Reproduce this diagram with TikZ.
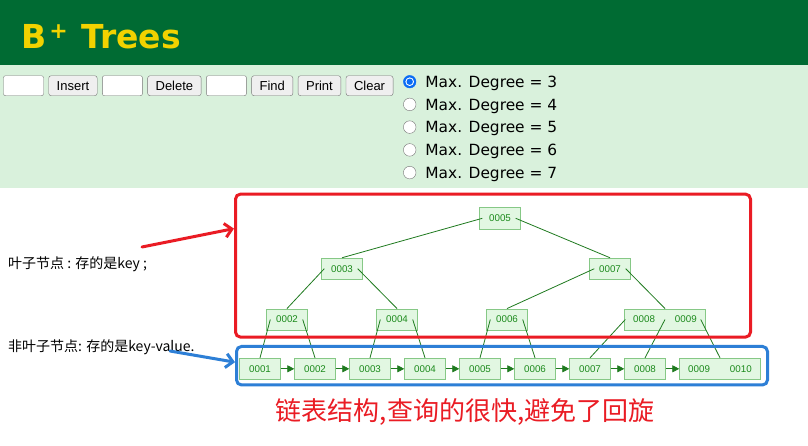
\documentclass[tikz,border=0pt]{standalone}
\usepackage{fontspec}
\setmainfont{Liberation Sans}
\newfontfamily\verafont{DejaVu Sans}
\newfontfamily\cjkfont{Noto Sans CJK SC}
\usetikzlibrary{arrows.meta,positioning}
\definecolor{btGreen}{HTML}{006B33}
\definecolor{btGold}{HTML}{F2D200}
\definecolor{btPanel}{HTML}{D9F1DC}
\definecolor{keyFill}{HTML}{E2F7E2}
\definecolor{keyLine}{HTML}{86C886}
\definecolor{keyText}{HTML}{1B8A1B}
\definecolor{linkGreen}{HTML}{1F7A1F}
\definecolor{markRed}{HTML}{EA1C24}
\definecolor{markBlue}{HTML}{2D7FD6}
\definecolor{ctlGray}{HTML}{767676}
\definecolor{btnFill}{HTML}{EFEFEF}
\definecolor{radioBlue}{HTML}{0A6CF5}

\begin{document}
\begin{tikzpicture}[x=1pt,y=-1pt,
  keynode/.style={draw=keyLine,fill=keyFill,text=keyText,font=\fontsize{9.8}{10}\selectfont,
    minimum width=41pt,minimum height=21.5pt,inner sep=0pt},
  widenode/.style={keynode,minimum width=81pt},
  ptr/.style={linkGreen,line width=.8pt},
  nextptr/.style={ptr,-{Triangle[length=7pt,width=7pt]}},
  field/.style={draw=ctlGray,fill=white,rounded corners=2pt,minimum width=40pt,minimum height=20pt,inner sep=0pt},
  button/.style={draw=ctlGray,fill=btnFill,rounded corners=2.5pt,minimum height=20pt,
    inner xsep=8pt,inner ysep=0pt,font=\fontsize{13}{13}\selectfont},
  radio/.style={circle,draw=ctlGray,fill=white,minimum size=12.6pt,inner sep=0pt},
  degree/.style={anchor=base west,inner sep=0pt,font=\verafont\fontsize{15.4}{16}\selectfont},
  note/.style={anchor=west,inner sep=0pt,font=\cjkfont\fontsize{14}{15}\selectfont},
  markbox/.style={line width=3pt,rounded corners=5pt},
  markarrow/.style={line width=3pt,line cap=round,-{Straight Barb[length=7pt,width=14pt]}}]
  \useasboundingbox (0,0) rectangle (808,445);
  \fill[white] (0,0) rectangle (808,445);
  \fill[btGreen] (0,0) rectangle (808,65);
  \fill[btPanel] (0,65) rectangle (808,188);
  \node[anchor=base west,inner sep=0pt,text=btGold,font=\verafont\bfseries\fontsize{33}{33}\selectfont] (title)
    at (21,48.5) {B\hspace{3pt}\raisebox{10pt}{\fontsize{22}{22}\selectfont +}\hspace{2pt} Trees};

  % controls
  \node[field,anchor=west] (in1) at (3.3,85.7) {};
  \node[button,right=4.8pt of in1] (ins) {Insert};
  \node[field,right=4.8pt of ins] (in2) {};
  \node[button,right=4.8pt of in2] (del) {Delete};
  \node[field,right=4.8pt of del] (in3) {};
  \node[button,right=4.8pt of in3] (find) {Find};
  \node[button,right=4.8pt of find] (prn) {Print};
  \node[button,right=4.8pt of prn] (clr) {Clear};

  \node[radio,draw=radioBlue,fill=radioBlue] (r3) at (409.7,81.7) {};
  \fill[white] (r3) circle (4.3pt);
  \fill[radioBlue] (r3) circle (3.2pt);
  \node[radio] (r4) at (409.7,104.4) {};
  \node[radio] (r5) at (409.7,127.1) {};
  \node[radio] (r6) at (409.7,149.9) {};
  \node[radio] (r7) at (409.7,172.6) {};
  \node[degree] (d3) at ([xshift=9pt,yshift=-5.6pt]r3.east) {Max. Degree = 3};
  \node[degree] (d4) at ([xshift=9pt,yshift=-5.6pt]r4.east) {Max. Degree = 4};
  \node[degree] (d5) at ([xshift=9pt,yshift=-5.6pt]r5.east) {Max. Degree = 5};
  \node[degree] (d6) at ([xshift=9pt,yshift=-5.6pt]r6.east) {Max. Degree = 6};
  \node[degree] (d7) at ([xshift=9pt,yshift=-5.6pt]r7.east) {Max. Degree = 7};

  % tree
  \node[keynode] (t5) at (500,218.3) {0005};
  \node[keynode] (t3) at (342,268.7) {0003};
  \node[keynode] (t7) at (610,268.7) {0007};
  \node[keynode] (t2) at (287,319.5) {0002};
  \node[keynode] (t4) at (397,319.5) {0004};
  \node[keynode] (t6) at (507,319.5) {0006};
  \node[widenode] (t89) at (665,319.5) {0008\hspace{20pt}0009};

  \node[keynode] (l1) at (260,368.8) {0001};
  \node[keynode,right=13.6pt of l1] (l2) {0002};
  \node[keynode,right=13.6pt of l2] (l3) {0003};
  \node[keynode,right=13.6pt of l3] (l4) {0004};
  \node[keynode,right=13.6pt of l4] (l5) {0005};
  \node[keynode,right=13.6pt of l5] (l6) {0006};
  \node[keynode,right=13.6pt of l6] (l7) {0007};
  \node[keynode,right=13.6pt of l7] (l8) {0008};
  \node[widenode,right=13.6pt of l8] (l9) {0009\hspace{20pt}0010};

  \draw[ptr] ([xshift=3pt]t5.west) -- (t3.north);
  \draw[ptr] ([xshift=-5pt]t5.east) -- (t7.north);
  \draw[ptr] ([xshift=3pt]t3.west) -- (t2.north);
  \draw[ptr] ([xshift=-5pt]t3.east) -- (t4.north);
  \draw[ptr] ([xshift=5pt]t7.west) -- (t6.north);
  \draw[ptr] ([xshift=-5pt]t7.east) -- (t89.north);
  \draw[ptr] ([xshift=4pt]t2.west) -- (l1.north);
  \draw[ptr] ([xshift=-5pt]t2.east) -- (l2.north);
  \draw[ptr] ([xshift=4pt]t4.west) -- (l3.north);
  \draw[ptr] ([xshift=-5pt]t4.east) -- (l4.north);
  \draw[ptr] ([xshift=4pt]t6.west) -- (l5.north);
  \draw[ptr] ([xshift=-5pt]t6.east) -- (l6.north);
  \draw[ptr] ([xshift=1pt]t89.west) -- (l7.north);
  \draw[ptr] (t89.center) -- (l8.north);
  \draw[ptr] ([xshift=-5pt]t89.east) -- (l9.north);

  \draw[nextptr] (l1) -- (l2);
  \draw[nextptr] (l2) -- (l3);
  \draw[nextptr] (l3) -- (l4);
  \draw[nextptr] (l4) -- (l5);
  \draw[nextptr] (l5) -- (l6);
  \draw[nextptr] (l6) -- (l7);
  \draw[nextptr] (l7) -- (l8);
  \draw[nextptr] (l8) -- (l9);

  % marks
  \node[markbox,draw=markRed,minimum width=515pt,minimum height=143pt] (treebox) at (493,265.6) {};
  \node[markbox,draw=markBlue,minimum width=531pt,minimum height=38.5pt] (chainbox) at (502,365.7) {};
  \node[note] (leaflab) at (8,264) {叶子节点 : 存的是key ;};
  \node[note] (innerlab) at (8,347) {非叶子节点: 存的是key-value.};
  \coordinate (redtail) at (142,247);
  \coordinate (bluetail) at (170,351);
  \draw[markarrow,markRed] (redtail) -- ([yshift=37pt]treebox.west);
  \draw[markarrow,markBlue] (bluetail) -- ([yshift=3.5pt]chainbox.west);
  \node[inner sep=0pt,text=markRed,font=\cjkfont\fontsize{26}{27}\selectfont] (remark) at (465,412)
    {链表结构,查询的很快,避免了回旋};
\end{tikzpicture}
\end{document}
